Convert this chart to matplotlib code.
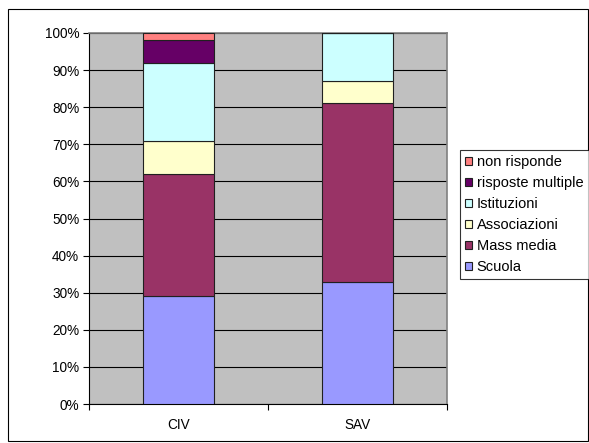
import numpy as np
import matplotlib
matplotlib.use('Agg')
import matplotlib.pyplot as plt
from matplotlib.patches import Rectangle

plt.rcParams['font.family'] = ['Liberation Sans', 'DejaVu Sans']

# Dati (percentuali)
categorie = ['CIV', 'SAV']
serie = ['Scuola', 'Mass media', 'Associazioni', 'Istituzioni', 'risposte multiple', 'non risponde']
scuola = [29, 33]
mass_media = [33, 48]
associazioni = [9, 6]
istituzioni = [21, 13]
risposte_multiple = [6, 0]
non_risponde = [2, 0]
colori = ['#9999FF', '#993366', '#FFFFCC', '#CCFFFF', '#660066', '#FF8080']

valori = [scuola, mass_media, associazioni, istituzioni, risposte_multiple, non_risponde]

fig = plt.figure(figsize=(5.89, 4.43), dpi=100)
fig.patches.append(Rectangle((8 / 589, 2 / 443), 580 / 589, 432 / 443, transform=fig.transFigure,
                             fill=False, edgecolor='black', linewidth=0.8))
ax = fig.add_axes([89 / 589, 39 / 443, 358 / 589, 371 / 443])
ax.set_facecolor('#C0C0C0')

x = np.arange(len(categorie))
bottom = np.zeros(len(categorie))
handles = []
for nome, vals, col in zip(serie, valori, colori):
    vals = np.array(vals, dtype=float)
    b = ax.bar(x, vals, 0.40, bottom=bottom, color=col, edgecolor='#202020', linewidth=0.8,
               label=nome, zorder=3)
    handles.append(b)
    bottom += vals

ax.set_xlim(-0.5, 1.5)
ax.set_ylim(0, 100)
ax.set_yticks(np.arange(0, 101, 10))
ax.set_yticklabels([f'{v}%' for v in range(0, 101, 10)], fontsize=9.8)
ax.yaxis.grid(True, color='black', linewidth=0.8, zorder=1)
ax.tick_params(axis='y', length=4, width=0.8, pad=3)
ax.set_xticks(x)
ax.set_xticklabels(categorie, fontsize=9.8)
ax.set_xticks([-0.5, 0.5, 1.5], minor=True)
ax.tick_params(axis='x', which='major', length=0, pad=10)
ax.tick_params(axis='x', which='minor', length=4, width=0.8)

for s in ['top', 'right']:
    ax.spines[s].set_color('#808080')
    ax.spines[s].set_linewidth(1.2)
ax.spines['left'].set_linewidth(0.8)
ax.spines['bottom'].set_linewidth(0.8)

leg = fig.legend(handles[::-1], serie[::-1], loc='upper left',
                 bbox_to_anchor=(460 / 589, 1 - 150 / 443), fontsize=10.5,
                 frameon=True, fancybox=False, edgecolor='black',
                 handlelength=0.45, handleheight=0.45, handletextpad=0.35,
                 labelspacing=0.48, borderpad=0.35, borderaxespad=0)
leg.get_frame().set_linewidth(0.8)

plt.savefig('out.png', dpi=100)
